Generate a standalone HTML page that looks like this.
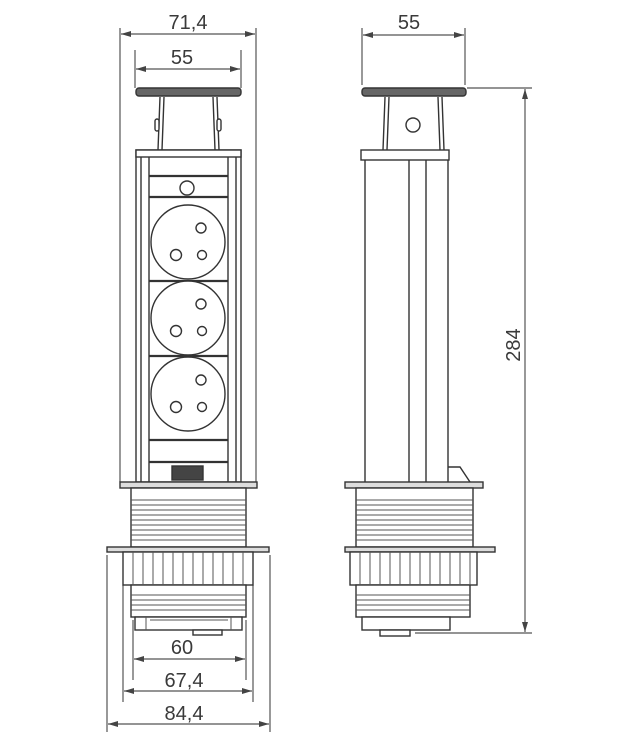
<!DOCTYPE html>
<html><head><meta charset="utf-8"><style>
html,body{margin:0;padding:0;background:#fff;}
svg{display:block}
text{font-family:"Liberation Sans",sans-serif;font-size:20px;fill:#3a3a3a;}
</style></head><body>
<svg width="640" height="749" viewBox="0 0 640 749" xmlns="http://www.w3.org/2000/svg">
<defs>
<marker id="a" viewBox="0 0 10 6" refX="10" refY="3" markerWidth="10" markerHeight="6" orient="auto-start-reverse" markerUnits="userSpaceOnUse"><path d="M0,0 L10,3 L0,6z" fill="#444"/></marker>
<g id="threads">
</g>
</defs>
<g stroke="#555" stroke-width="1.2" fill="none">
<!-- FRONT dims -->
<line x1="120" y1="28" x2="120" y2="482"/><line x1="256" y1="28" x2="256" y2="482"/>
<line x1="121" y1="34" x2="255" y2="34" marker-start="url(#a)" marker-end="url(#a)"/>
<line x1="135" y1="50" x2="135" y2="88"/><line x1="241" y1="50" x2="241" y2="88"/>
<line x1="136" y1="69" x2="240" y2="69" marker-start="url(#a)" marker-end="url(#a)"/>
<line x1="133" y1="620" x2="133" y2="680"/><line x1="246" y1="620" x2="246" y2="680"/>
<line x1="134" y1="659" x2="245" y2="659" marker-start="url(#a)" marker-end="url(#a)"/>
<line x1="123" y1="585" x2="123" y2="702"/><line x1="253" y1="585" x2="253" y2="702"/>
<line x1="124" y1="691" x2="252" y2="691" marker-start="url(#a)" marker-end="url(#a)"/>
<line x1="107" y1="555" x2="107" y2="732"/><line x1="270" y1="555" x2="270" y2="732"/>
<line x1="108" y1="724" x2="269" y2="724" marker-start="url(#a)" marker-end="url(#a)"/>
<!-- SIDE dims -->
<line x1="362" y1="28" x2="362" y2="85"/><line x1="465" y1="28" x2="465" y2="85"/>
<line x1="363" y1="35" x2="464" y2="35" marker-start="url(#a)" marker-end="url(#a)"/>
<line x1="467" y1="88" x2="532" y2="88"/><line x1="415" y1="633" x2="532" y2="633"/>
<line x1="525" y1="89" x2="525" y2="632" marker-start="url(#a)" marker-end="url(#a)"/>
</g>
<g>
<text x="188" y="29" text-anchor="middle">71,4</text>
<text x="182" y="64" text-anchor="middle">55</text>
<text x="182" y="654" text-anchor="middle">60</text>
<text x="184" y="687" text-anchor="middle">67,4</text>
<text x="184" y="720" text-anchor="middle">84,4</text>
<text x="409" y="29" text-anchor="middle">55</text>
<text transform="translate(520,345) rotate(-90)" text-anchor="middle">284</text>
</g>

<!-- FRONT VIEW -->
<g stroke="#333" stroke-width="1.4" fill="#fff">
<rect x="136" y="88" width="105" height="8" rx="3" fill="#666"/>
<path d="M160 97 L158 150 M164 97 L162 150 M213 97 L215 150 M217 97 L219 150"/>
<rect x="155" y="119" width="4" height="12" rx="2"/><rect x="217" y="119" width="4" height="12" rx="2"/>
<rect x="136" y="150" width="105" height="332"/>
<rect x="136" y="150" width="105" height="7"/>
<line x1="141" y1="157" x2="141" y2="482"/><line x1="236" y1="157" x2="236" y2="482"/>
<line x1="149" y1="157" x2="149" y2="482"/><line x1="228" y1="157" x2="228" y2="482"/>
<g stroke-width="2.2"><line x1="149" y1="176" x2="228" y2="176"/><line x1="149" y1="197" x2="228" y2="197"/>
<line x1="149" y1="281" x2="228" y2="281"/><line x1="149" y1="356" x2="228" y2="356"/><line x1="149" y1="440" x2="228" y2="440"/><line x1="149" y1="462" x2="228" y2="462"/></g>
<circle cx="187" cy="188" r="7"/>
<g id="sk"><circle cx="188" cy="242" r="37"/><circle cx="201" cy="228" r="5"/><circle cx="176" cy="255" r="5.5"/><circle cx="202" cy="255" r="4.5"/></g>
<use href="#sk" y="76"/><use href="#sk" y="152"/>
<rect x="172" y="466" width="31" height="14" fill="#444"/>
<rect x="120" y="482" width="137" height="6" fill="#ddd"/>
<rect x="131" y="488" width="115" height="59"/>
<rect x="107" y="547" width="162" height="5" fill="#ddd"/>
<rect x="123" y="552" width="130" height="33"/>
<rect x="131" y="585" width="115" height="32"/>
<rect x="135" y="617" width="107" height="13"/>
<rect x="193" y="630" width="29" height="5"/>
</g>
<g stroke="#555" stroke-width="1">
<path d="M131 500H246M131 505H246M131 510H246M131 515H246M131 520H246M131 525H246M131 530H246M131 535H246M131 540H246M131 595H246M131 600H246M131 605H246M131 610H246"/>
<path d="M133 552V585M143 552V585M153 552V585M163 552V585M173 552V585M183 552V585M193 552V585M203 552V585M213 552V585M223 552V585M233 552V585M243 552V585"/>
<path d="M146 617V630M231 617V630M150 620H228"/>
</g>

<!-- SIDE VIEW -->
<g stroke="#333" stroke-width="1.4" fill="#fff">
<rect x="362" y="88" width="104" height="8" rx="3" fill="#666"/>
<path d="M385 97 L383 150 M389 97 L387 150 M438 97 L440 150 M442 97 L444 150"/>
<circle cx="413" cy="125" r="7"/>
<rect x="361" y="150" width="88" height="10"/>
<path d="M365 160V482M409 160V482M426 160V482M448 160V482"/>
<path d="M448 467H460L470 482"/>
<rect x="345" y="482" width="138" height="6" fill="#ddd"/>
<rect x="356" y="488" width="117" height="59"/>
<rect x="345" y="547" width="150" height="5" fill="#ddd"/>
<rect x="350" y="552" width="127" height="33"/>
<rect x="356" y="585" width="114" height="32"/>
<rect x="362" y="617" width="88" height="13"/>
<rect x="380" y="630" width="30" height="6"/>
</g>
<g stroke="#555" stroke-width="1">
<path d="M356 500H473M356 505H473M356 510H473M356 515H473M356 520H473M356 525H473M356 530H473M356 535H473M356 540H473M356 595H470M356 600H470M356 605H470M356 610H470"/>
<path d="M360 552V585M370 552V585M380 552V585M390 552V585M400 552V585M410 552V585M420 552V585M430 552V585M440 552V585M450 552V585M460 552V585M470 552V585"/>
</g>
</svg>
</body></html>
